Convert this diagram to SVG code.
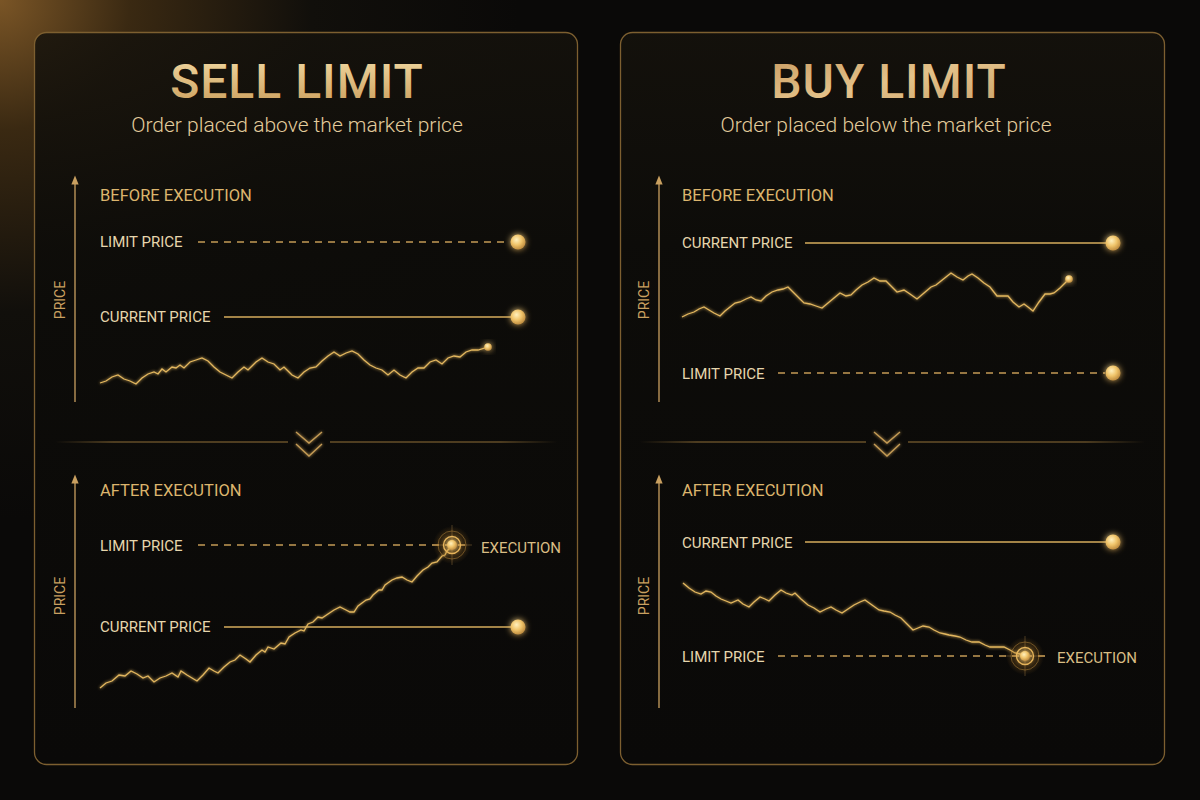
<svg xmlns="http://www.w3.org/2000/svg" width="1200" height="800" viewBox="0 0 1200 800">
<defs>
<radialGradient id="bgGlow" cx="0" cy="0" r="520" gradientUnits="userSpaceOnUse">
<stop offset="0" stop-color="#7a5526"/>
<stop offset="0.25" stop-color="#3a2912"/>
<stop offset="0.6" stop-color="#110f0b"/>
<stop offset="1" stop-color="#0a0908"/>
</radialGradient>
<linearGradient id="panelFill" x1="0" y1="0" x2="0" y2="1">
<stop offset="0" stop-color="#15120c" stop-opacity="0.85"/>
<stop offset="0.3" stop-color="#0d0c09" stop-opacity="0.92"/>
<stop offset="1" stop-color="#0a0908" stop-opacity="0.96"/>
</linearGradient>
<linearGradient id="titleGrad" x1="0" y1="0" x2="0" y2="1">
<stop offset="0" stop-color="#f3dca6"/>
<stop offset="1" stop-color="#c99b58"/>
</linearGradient>
<linearGradient id="titleGrad2" x1="0" y1="0" x2="1" y2="1">
<stop offset="0" stop-color="#c99c62"/>
<stop offset="0.5" stop-color="#e4c28a"/>
<stop offset="1" stop-color="#c9a068"/>
</linearGradient>
<linearGradient id="divL" x1="0" y1="0" x2="1" y2="0">
<stop offset="0" stop-color="#8a6a35" stop-opacity="0"/>
<stop offset="0.25" stop-color="#8a6a35" stop-opacity="0.85"/>
<stop offset="1" stop-color="#8a6a35" stop-opacity="0.9"/>
</linearGradient>
<linearGradient id="divR" x1="0" y1="0" x2="1" y2="0">
<stop offset="0" stop-color="#8a6a35" stop-opacity="0.9"/>
<stop offset="0.75" stop-color="#8a6a35" stop-opacity="0.85"/>
<stop offset="1" stop-color="#8a6a35" stop-opacity="0"/>
</linearGradient>
<radialGradient id="dotGrad" cx="0.4" cy="0.35" r="0.7">
<stop offset="0" stop-color="#fff0bd"/>
<stop offset="0.5" stop-color="#f0c46a"/>
<stop offset="1" stop-color="#b9853a"/>
</radialGradient>
<radialGradient id="haloGrad" cx="0.5" cy="0.5" r="0.5">
<stop offset="0" stop-color="#f0b94e" stop-opacity="0.55"/>
<stop offset="0.6" stop-color="#b07a2a" stop-opacity="0.25"/>
<stop offset="1" stop-color="#b07a2a" stop-opacity="0"/>
</radialGradient>
<filter id="glow" x="-50%" y="-50%" width="200%" height="200%">
<feGaussianBlur stdDeviation="3" result="b"/>
<feMerge><feMergeNode in="b"/><feMergeNode in="SourceGraphic"/></feMerge>
</filter>
<filter id="softGlow" x="-10%" y="-50%" width="120%" height="200%">
<feGaussianBlur stdDeviation="1.5" result="b"/>
<feMerge><feMergeNode in="b"/><feMergeNode in="SourceGraphic"/></feMerge>
</filter>
<marker id="axisHead" viewBox="0 0 10 10" refX="5" refY="5" markerWidth="7" markerHeight="9" orient="auto">
<path d="M0,1 L10,5 L0,9 Z" fill="#c9a060"/>
</marker>
<style>
.panel{fill:url(#panelFill);stroke:#7d5f30;stroke-width:1.3}
.title{font-family:Roboto,"Liberation Sans",sans-serif;font-weight:500;font-size:48px;text-anchor:middle}
.sub{font-family:Roboto,"Liberation Sans",sans-serif;font-weight:300;font-size:21px;fill:#e3cc9c;text-anchor:middle}
.sect{font-family:Roboto,"Liberation Sans",sans-serif;font-size:16.5px;fill:#dcb56d}
.lbl{font-family:Roboto,"Liberation Sans",sans-serif;font-size:15px;fill:#e6d6ad}
.exe{font-family:Roboto,"Liberation Sans",sans-serif;font-size:15px;fill:#d9bd84}
.axlbl{font-family:Roboto,"Liberation Sans",sans-serif;font-size:14px;fill:#c9a060;text-anchor:middle}
.axis{stroke:#c9a060;stroke-width:1.3;fill:none}
.solid{stroke:#d6ad5c;stroke-width:1.6;fill:none}
.dash{stroke:#c39a55;stroke-width:1.4;stroke-dasharray:7 6;fill:none}
.wave{stroke:#e2b65e;stroke-width:1.3;fill:none;stroke-linejoin:miter}
.chev{stroke:#c49b55;stroke-width:1.4;fill:none}
.dot{fill:url(#dotGrad)}
</style>
</defs>

<rect width="1200" height="800" fill="#0a0908"/>
<rect width="1200" height="800" fill="url(#bgGlow)"/>

<!-- SELL LIMIT panel -->
<g id="panel-sell">
<rect class="panel" x="34.5" y="32.5" width="543" height="732" rx="12"/>
<text class="title" x="297" y="98" fill="url(#titleGrad)" letter-spacing="1">SELL LIMIT</text>
<text class="sub" x="297" y="132">Order placed above the market price</text>

<g id="sell-before">
<line class="axis" x1="75" y1="402" x2="75" y2="180" marker-end="url(#axisHead)"/>
<text class="axlbl" transform="translate(65,300) rotate(-90)">PRICE</text>
<text class="sect" x="100" y="201">BEFORE EXECUTION</text>
<text class="lbl" x="100" y="247">LIMIT PRICE</text>
<text class="lbl" x="100" y="322">CURRENT PRICE</text>
</g>

<g id="sell-divider">
<rect fill="url(#divL)" x="55" y="441.4" width="233" height="1.2"/>
<rect fill="url(#divR)" x="330" y="441.4" width="227" height="1.2"/>
<polyline class="chev" points="296,432 309,443 322,432" filter="url(#softGlow)"/>
<polyline class="chev" points="296,444 309,456 322,444" filter="url(#softGlow)"/>
</g>

<g id="sell-after">
<line class="axis" x1="75" y1="708" x2="75" y2="479" marker-end="url(#axisHead)"/>
<text class="axlbl" transform="translate(65,596) rotate(-90)">PRICE</text>
<text class="sect" x="100" y="496">AFTER EXECUTION</text>
<text class="lbl" x="100" y="551">LIMIT PRICE</text>
<text class="lbl" x="100" y="632">CURRENT PRICE</text>
<text class="exe" x="481" y="553">EXECUTION</text>
</g>
</g>

<!-- BUY LIMIT panel -->
<g id="panel-buy">
<rect class="panel" x="620.5" y="32.5" width="544" height="732" rx="12"/>
<text class="title" x="889" y="98" fill="url(#titleGrad2)" letter-spacing="1">BUY LIMIT</text>
<text class="sub" x="886" y="132">Order placed below the market price</text>

<g id="buy-before">
<line class="axis" x1="659" y1="402" x2="659" y2="180" marker-end="url(#axisHead)"/>
<text class="axlbl" transform="translate(649,300) rotate(-90)">PRICE</text>
<text class="sect" x="682" y="201">BEFORE EXECUTION</text>
<text class="lbl" x="682" y="248">CURRENT PRICE</text>
<text class="lbl" x="682" y="379">LIMIT PRICE</text>
</g>

<g id="buy-divider">
<rect fill="url(#divL)" x="640" y="441.4" width="226" height="1.2"/>
<rect fill="url(#divR)" x="908" y="441.4" width="237" height="1.2"/>
<polyline class="chev" points="874,432 887,443 900,432" filter="url(#softGlow)"/>
<polyline class="chev" points="874,444 887,456 900,444" filter="url(#softGlow)"/>
</g>

<g id="buy-after">
<line class="axis" x1="659" y1="708" x2="659" y2="479" marker-end="url(#axisHead)"/>
<text class="axlbl" transform="translate(649,596) rotate(-90)">PRICE</text>
<text class="sect" x="682" y="496">AFTER EXECUTION</text>
<text class="lbl" x="682" y="548">CURRENT PRICE</text>
<text class="lbl" x="682" y="662">LIMIT PRICE</text>
<text class="exe" x="1057" y="663">EXECUTION</text>
</g>
</g>

<!-- connectors: price levels and price paths -->
<g id="connectors">
<!-- sell before -->
<line class="dash" x1="198" y1="242" x2="510" y2="242"/>
<circle class="dot" cx="518" cy="242" r="7.5" filter="url(#glow)"/>
<line class="solid" x1="224" y1="317" x2="512" y2="317"/>
<circle class="dot" cx="518" cy="317" r="7.5" filter="url(#glow)"/>
<polyline class="wave" filter="url(#softGlow)" points="100,383 106,381 112,377 118,375 124,379 130,381 136,384 142,378 148,374 154,372 158,374 162,369 166,372 172,367 176,368 180,365 184,368 190,362 196,360 202,358 208,361 214,367 220,372 226,375 232,378 238,372 244,367 248,370 252,366 256,362 262,358 268,362 274,364 280,370 284,367 288,371 292,375 298,378 304,372 310,368 316,367 322,361 328,356 334,352 340,356 346,353 352,351 358,354 364,360 370,365 376,368 382,370 388,375 394,370 400,375 406,378 412,372 418,368 424,368 430,362 436,360 442,364 448,358 454,356 460,357 466,352 472,350 478,350 488,347"/>
<circle class="dot" cx="488" cy="347" r="3.8" filter="url(#glow)"/>

<!-- sell after -->
<line class="dash" x1="198" y1="545" x2="470" y2="545"/>
<line class="solid" x1="224" y1="627" x2="512" y2="627"/>
<circle class="dot" cx="518" cy="627" r="7.5" filter="url(#glow)"/>
<polyline class="wave" filter="url(#softGlow)" points="100,688 106,683 112,681 119,675 125,676 131,671 137,674 143,678 148,676 154,682 160,678 166,676 172,673 178,677 181,671 187,675 192,678 197,681 203,675 209,668 214,671 218,673 224,667 230,662 235,660 240,655 246,659 250,662 256,655 262,650 265,652 268,647 274,649 281,643 285,644 289,637 295,633 301,630 304,631 308,624 313,622 318,617 322,618 328,614 334,610 340,607 346,610 350,612 354,612 358,606 362,603 366,600 370,599 373,595 379,590 382,590 385,585 392,580 397,578 402,577 407,580 412,582 417,576 423,570 428,567 432,563 437,562 442,556 445,555 447,551 452,546"/>
<g id="sell-exec-marker">
<circle cx="452" cy="545" r="19" fill="url(#haloGrad)"/>
<line x1="432" y1="545" x2="472" y2="545" stroke="#e0b060" stroke-opacity="0.3" stroke-width="1"/>
<line x1="452" y1="525" x2="452" y2="565" stroke="#e0b060" stroke-opacity="0.3" stroke-width="1"/>
<circle cx="452" cy="545" r="14" fill="none" stroke="#c99540" stroke-opacity="0.45" stroke-width="1"/>
<circle cx="452" cy="545" r="8.5" fill="none" stroke="#e6b45a" stroke-width="1.4"/>
<circle class="dot" cx="452" cy="545" r="5" filter="url(#glow)"/>
</g>

<!-- buy before -->
<line class="solid" x1="805" y1="243" x2="1107" y2="243"/>
<circle class="dot" cx="1113" cy="243" r="7.5" filter="url(#glow)"/>
<polyline class="wave" filter="url(#softGlow)" points="682,317 688,314 694,312 699,309 704,307 709,310 714,313 720,316 725,311 730,307 735,303 740,302 746,299 751,297 756,300 761,301 766,296 772,292 778,290 783,289 788,287 793,292 799,298 804,303 810,304 816,306 822,308 828,303 834,298 840,293 846,296 851,295 856,290 862,285 868,282 874,278 880,281 886,281 891,286 897,292 904,290 910,294 917,299 924,293 931,287 936,285 941,281 946,277 951,273 957,277 963,280 968,276 972,274 978,278 984,283 990,287 997,296 1002,296 1008,296 1013,302 1019,307 1024,304 1028,307 1033,311 1039,302 1045,294 1050,294 1054,293 1060,288 1064,284 1069,279"/>
<circle class="dot" cx="1069" cy="279" r="3.8" filter="url(#glow)"/>
<line class="dash" x1="778" y1="373" x2="1105" y2="373"/>
<circle class="dot" cx="1113" cy="373" r="7.5" filter="url(#glow)"/>

<!-- buy after -->
<line class="solid" x1="805" y1="542" x2="1107" y2="542"/>
<circle class="dot" cx="1113" cy="542" r="7.5" filter="url(#glow)"/>
<line class="dash" x1="778" y1="656" x2="1045" y2="656"/>
<polyline class="wave" filter="url(#softGlow)" points="683,583 689,588 695,592 701,594 706,591 711,592 716,596 721,599 726,601 731,603 738,600 743,604 749,607 754,602 760,597 765,599 769,601 775,595 781,590 786,593 792,595 795,593 801,599 808,605 814,608 820,612 826,609 831,607 836,610 842,613 848,609 854,605 860,602 865,600 872,605 879,610 884,611 890,612 895,615 901,618 907,624 913,630 918,628 923,626 929,627 934,630 940,633 945,634 949,635 955,636 960,637 966,640 972,642 979,642 985,645 990,647 997,647 1004,647 1010,650 1015,653 1020,654 1025,656"/>
<g id="buy-exec-marker">
<circle cx="1025" cy="656" r="19" fill="url(#haloGrad)"/>
<line x1="1005" y1="656" x2="1045" y2="656" stroke="#e0b060" stroke-opacity="0.3" stroke-width="1"/>
<line x1="1025" y1="636" x2="1025" y2="676" stroke="#e0b060" stroke-opacity="0.3" stroke-width="1"/>
<circle cx="1025" cy="656" r="14" fill="none" stroke="#c99540" stroke-opacity="0.45" stroke-width="1"/>
<circle cx="1025" cy="656" r="8.5" fill="none" stroke="#e6b45a" stroke-width="1.4"/>
<circle class="dot" cx="1025" cy="656" r="5" filter="url(#glow)"/>
</g>
</g>
</svg>
